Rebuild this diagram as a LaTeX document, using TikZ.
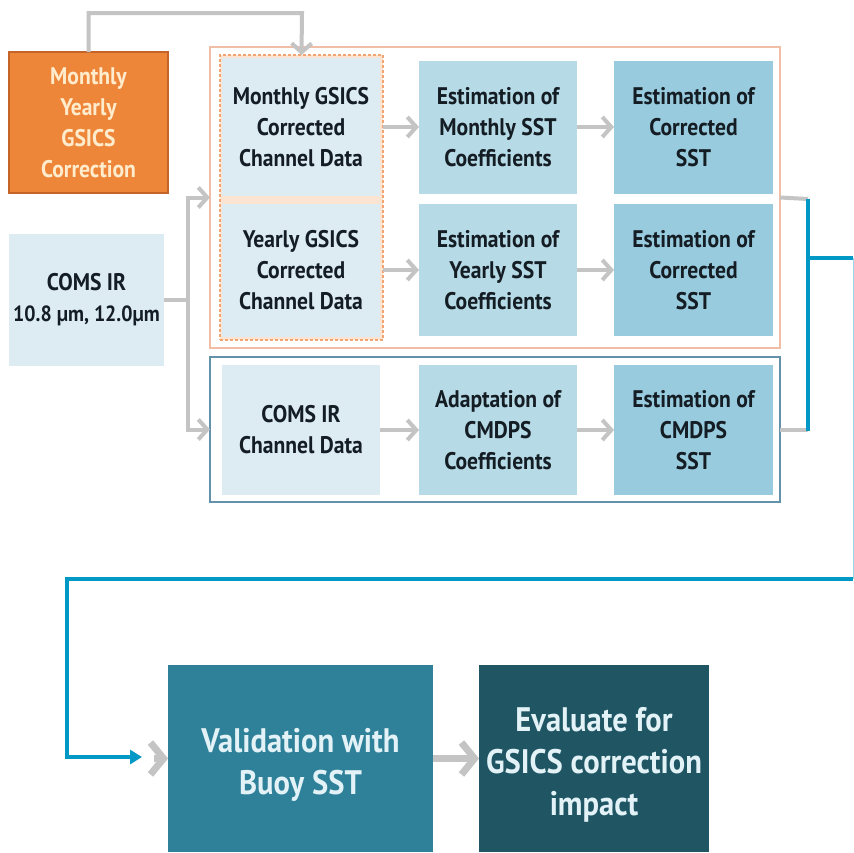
\documentclass[tikz,border=0pt]{standalone}
\usepackage{fontspec}
\setmainfont{PT Sans}[FakeStretch=0.9]
\usetikzlibrary{arrows.meta,calc}
\definecolor{orfill}{RGB}{238,134,58}
\definecolor{ordraw}{RGB}{196,100,40}
\definecolor{cream}{RGB}{255,236,205}
\definecolor{lightb}{RGB}{220,236,242}
\definecolor{midb}{RGB}{182,218,230}
\definecolor{deepb}{RGB}{152,203,221}
\definecolor{valfill}{RGB}{47,128,153}
\definecolor{evalfill}{RGB}{32,86,100}
\definecolor{gline}{RGB}{196,196,196}
\definecolor{bline}{RGB}{0,152,196}
\definecolor{ofrc}{RGB}{240,190,165}
\definecolor{bfrc}{RGB}{100,145,170}
\definecolor{dashc}{RGB}{240,165,115}
\definecolor{peach}{RGB}{252,228,210}
\definecolor{txt}{RGB}{20,28,36}
\definecolor{wtxt}{RGB}{226,242,247}
\begin{document}
\begin{tikzpicture}[x=1pt,y=-1pt,
  every node/.style={inner sep=0pt, outer sep=0pt, align=center},
  box/.style={rectangle, draw=none, font=\fontsize{24}{31}\selectfont\bfseries, text=txt},
  lbox/.style={box, fill=lightb},
  mbox/.style={box, fill=midb},
  dbox/.style={box, fill=deepb},
  bigbox/.style={rectangle},
  bigtext/.style={font=\fontsize{34}{42}\selectfont\bfseries, text=wtxt, yshift=-6pt},
  frame/.style={rectangle, fill=white, line width=1.2pt},
  garrow/.style={draw=gline, line width=4pt, -{Straight Barb[length=9pt,width=20pt]}},
  gplain/.style={draw=gline, line width=4pt},
  bigchev/.style={draw=gline, line width=7pt, -{Straight Barb[length=13pt,width=32pt]}},
  bpath/.style={draw=bline, line width=3.5pt},
]
\useasboundingbox (0,0) rectangle (854,852);
\fill[white] (0,0) rectangle (854,852);

% frames
\node[frame, draw=ofrc, minimum width=570pt, minimum height=301pt] (ofr) at (495,197.5) {};
\node[frame, draw=bfrc, minimum width=570pt, minimum height=145pt] (bfr) at (495,429.5) {};
\node[rectangle, draw=dashc, dash pattern=on 3pt off 2pt, line width=1.2pt, fill=peach, minimum width=163pt, minimum height=285pt] (dsh) at (301.5,197.5) {};

% left boxes
\node[rectangle, fill=orfill, draw=ordraw, line width=1.5pt, minimum width=159pt, minimum height=141pt,
      font=\fontsize{24}{31}\selectfont\bfseries, text=cream] (orng) at (88.5,122.5) {Monthly\\Yearly\\GSICS\\Correction};
\node[lbox, minimum width=155pt, minimum height=132pt] (coms) at (86.5,300) {COMS IR\\{\fontsize{22}{31}\selectfont 10.8 µm, 12.0µm}};

% row 1
\node[lbox, minimum width=158pt, minimum height=138pt] (m1) at (301,127) {Monthly GSICS\\Corrected\\Channel Data};
\node[mbox, minimum width=158pt, minimum height=133pt] (m2) at (498,127) {Estimation of\\Monthly SST\\Coefficients};
\node[dbox, minimum width=159pt, minimum height=133pt] (m3) at (693.5,127) {Estimation of\\Corrected\\SST};
% row 2
\node[lbox, minimum width=158pt, minimum height=133pt] (y1) at (301,270) {Yearly GSICS\\Corrected\\Channel Data};
\node[mbox, minimum width=158pt, minimum height=132pt] (y2) at (498,270) {Estimation of\\Yearly SST\\Coefficients};
\node[dbox, minimum width=159pt, minimum height=132pt] (y3) at (693.5,270) {Estimation of\\Corrected\\SST};
% row 3
\node[lbox, minimum width=158pt, minimum height=130pt] (c1) at (301,430) {COMS IR\\Channel Data};
\node[mbox, minimum width=158pt, minimum height=130pt] (c2) at (498,430) {Adaptation of\\CMDPS\\Coefficients};
\node[dbox, minimum width=159pt, minimum height=130pt] (c3) at (693.5,430) {Estimation of\\CMDPS\\SST};

% bottom boxes
\node[bigbox, fill=valfill, minimum width=265pt, minimum height=187pt,
      label={[bigtext]center:Validation with\\Buoy SST}] (val) at (300.5,758.5) {};
\node[bigbox, fill=evalfill, minimum width=230pt, minimum height=187pt,
      label={[bigtext]center:Evaluate for\\GSICS correction\\impact}] (eval) at (594,758.5) {};

% coordinates
\coordinate (tc) at (302,13);
\coordinate (sp) at (188,300);
\coordinate (rt) at (808,199);
\coordinate (rb) at (808,431);
\coordinate (rj) at (808,258);
\coordinate (re1) at (853,258);
\coordinate (re2) at (853,579);
\coordinate (lc1) at (67,579);
\coordinate (lc2) at (67,757);
\coordinate (ae) at (142,757);

% gray connectors
\draw[garrow] (orng.north) |- (tc) -- (dsh.north);
\draw[gplain] (coms.east) -- (sp);
\draw[garrow] (sp) |- (ofr.west);
\draw[garrow] (sp) |- (bfr.west);
\draw[garrow] (dsh.east |- m1.east) -- (m2.west);
\draw[garrow] (dsh.east |- y2.west) -- (y2.west);
\draw[garrow] (c1.east) -- (c2.west);
\draw[garrow] (m2.east) -- (m3.west);
\draw[garrow] (y2.east) -- (y3.west);
\draw[garrow] (c2.east) -- (c3.west);
\draw[gplain] (ofr.east) -- (rt -| rj) ;
\draw[gplain] (bfr.east) -- (rb |- bfr.east);

% blue connectors
\draw[bpath] (rt) -- (rb);
\draw[bpath] (rj) -- (re1);
\draw[draw=bline!40, line width=0.8pt] (re1) -- (re2);
\draw[bpath, -{Triangle[length=12pt,width=14pt]}] (re2) -- (lc1) -- (lc2) -- (ae);
\draw[bigchev] ($(val.west)+(-14,0)$) -- (val.west);
\draw[bigchev] (val.east) -- (eval.west);
\end{tikzpicture}
\end{document}
